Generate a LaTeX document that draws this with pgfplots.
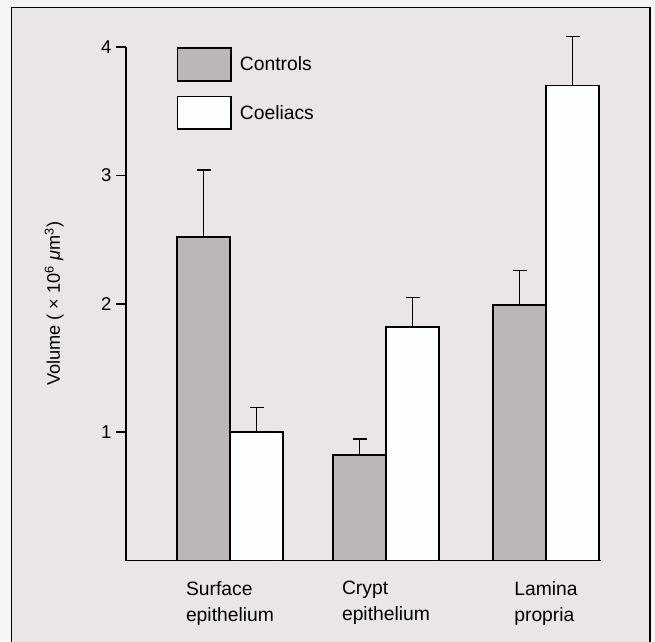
\documentclass[border=0pt]{standalone}
\usepackage{pgfplots}
\pgfplotsset{compat=1.18}
\usepackage{fontspec}
\setmainfont{Liberation Sans}
\definecolor{outerbg}{HTML}{F6F4F4}
\definecolor{innerbg}{HTML}{EAE5E7}
\definecolor{ctrl}{HTML}{BBB6BA}
\definecolor{coel}{HTML}{FEFEFE}
\pgfplotsset{myerr/.style={
  error bars/y dir=plus, error bars/y explicit,
  error bars/error bar style={line width=1.5pt, black},
  error bars/error mark options={rotate=90, line width=1.5pt, mark size=7pt, black}}}
\begin{document}
\begin{tikzpicture}
\useasboundingbox (0pt,0pt) rectangle (655pt,641pt);
\fill[outerbg] (0pt,0pt) rectangle (655pt,641pt);
\fill[innerbg] (11.5pt,-5pt) rectangle (650pt,633.5pt);
\draw[line width=1.7pt] (11.5pt,-5pt) -- (11.5pt,633.5pt) -- (650pt,633.5pt) -- (650pt,-5pt);
\begin{axis}[
  at={(126pt,80.5pt)}, anchor=south west,
  scale only axis, width=475pt, height=513.5pt,
  xmin=126, xmax=601, ymin=0, ymax=4,
  clip=false,
  axis x line*=bottom, axis y line*=left,
  axis line style={line width=1.6pt},
  ytick={1,2,3,4},
  tick align=outside,
  major tick length=10pt,
  y tick style={line width=1.6pt, black},
  xtick={230,386,546},
  x tick style={draw=none},
  xticklabels={{Surface\\epithelium},{Crypt\\epithelium},{Lamina\\propria}},
  xticklabel style={align=left, font=\fontsize{19.3}{26}\selectfont, yshift=-7pt},
  yticklabel style={font=\fontsize{18.5}{22}\selectfont, xshift=-1pt},
  /pgf/number format/assume math mode=true,
  ylabel={Volume ( × 10\textsuperscript{6} \textit{μ}m\textsuperscript{3})},
  ylabel style={at={(axis description cs:-0.151,0.5)}, anchor=center, font=\fontsize{18.2}{20}\selectfont},
  ybar, bar width=53,
  legend style={at={(axis cs:176.5,4)}, anchor=north west, draw=none, fill=none,
    inner sep=0pt, row sep=14.2pt, column sep=8pt,
    nodes={inner sep=0pt}, font=\fontsize{19.3}{21}\selectfont},
  legend cell align=left,
]
\addplot[draw=black, line width=1.7pt, fill=ctrl, bar shift=-26.5, myerr,
  legend image code/.code={\draw[fill=ctrl, line width=1.7pt] (0pt,-16.3pt) rectangle (53.5pt,16.3pt);}]
  coordinates {(230,2.52) +- (0,0.52) (386,0.82) +- (0,0.125) (546,1.99) +- (0,0.27)};
\addplot[draw=black, line width=1.7pt, fill=coel, bar shift=26.5, myerr,
  legend image code/.code={\draw[fill=coel, line width=1.7pt] (0pt,-16.3pt) rectangle (53.5pt,16.3pt);}]
  coordinates {(230,1.0) +- (0,0.19) (386,1.82) +- (0,0.23) (546,3.70) +- (0,0.38)};
\legend{Controls,Coeliacs}
\end{axis}
\end{tikzpicture}
\end{document}
